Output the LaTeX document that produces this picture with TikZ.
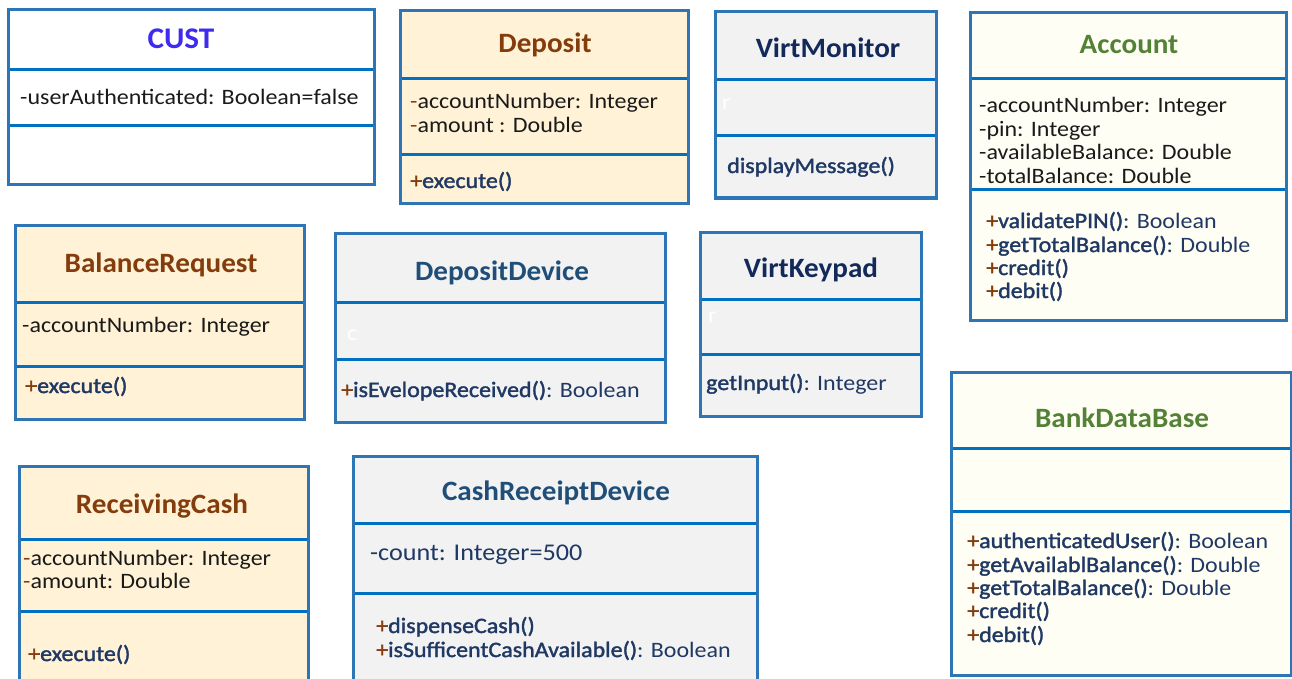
\documentclass[tikz,border=0pt]{standalone}
\usepackage{fontspec}
\setmainfont{Carlito}
\newfontfamily\bodyfam{Carlito}[FakeStretch=1.09]
\newfontfamily\opfam{Carlito}[FakeStretch=1.09, FakeBold=1.6]
\newfontfamily\headfam{Carlito}[FakeStretch=1.04]
\definecolor{frameblue}{HTML}{2E75B6}
\definecolor{divblue}{HTML}{0070C0}
\definecolor{tanfill}{HTML}{FFF2D6}
\definecolor{grayfill}{HTML}{F2F2F2}
\definecolor{ivoryfill}{HTML}{FEFEF4}
\definecolor{custblue}{HTML}{3F2BEE}
\definecolor{brownT}{HTML}{843C0C}
\definecolor{navyT}{HTML}{13295A}
\definecolor{steelT}{HTML}{1F4E79}
\definecolor{greenT}{HTML}{538135}
\definecolor{ink}{HTML}{1A1A1A}
\definecolor{navy}{HTML}{1F3864}
% operation name set a little heavier; #1 = visibility sign, #2 = name
\newcommand\op[2]{{\opfam\textcolor{brownT}{#1}\textcolor{navy}{#2}}}
\tikzset{
  x=1pt, y=-1pt,
  frame/.style={draw=frameblue, line width=3pt},
  divider/.style={draw=divblue, line width=3pt},
  ctitle/.style={font=\headfam\bfseries\fontsize{28}{30}\selectfont, anchor=base, inner sep=0pt},
  ctext/.style={font=\bodyfam\fontsize{22}{24}\selectfont, text=ink, anchor=base west, inner sep=0pt},
  otext/.style={ctext, text=navy},
  ghost/.style={ctext, text=white},
}
% one class box: fill, left, top, right, bottom, first divider, second divider
\newcommand\classbox[7]{%
  \fill[#1] (#2,#3) rectangle (#4,#5);
  \draw[divider] (#2,#6) -- (#4,#6);
  \draw[divider] (#2,#7) -- (#4,#7);
  \draw[frame] (#2,#3) rectangle (#4,#5);
}
\begin{document}
\begin{tikzpicture}
\useasboundingbox (0,0) rectangle (1292,679);
\clip (0,0) rectangle (1292,679);
\fill[white] (0,0) rectangle (1292,679);

% CUST
\classbox{white}{8}{10}{374}{185}{70}{126}
\node[ctitle, text=custblue, font=\headfam\bfseries\fontsize{30}{32}\selectfont] (cust) at (181,49) {CUST};
\node[ctext] (cust-a1) at (20,105) {-userAuthenticated: Boolean=false};

% Deposit
\classbox{tanfill}{400}{11}{688}{203}{79}{155}
\node[ctitle, text=brownT] (dep) at (545,53) {Deposit};
\node[ctext] (dep-a1) at (410,109) {\textcolor{brownT}{-}accountNumber: Integer};
\node[ctext] (dep-a2) at (410,133) {\textcolor{brownT}{-}amount : Double};
\node[otext] (dep-m1) at (410,188) {\op{+}{execute()}};

% VirtMonitor
\classbox{grayfill}{715}{12}{936}{198}{80}{136}
\node[ctitle, text=navyT] (vmon) at (828,58) {VirtMonitor};
\node[ghost] (vmon-a1) at (722,110) {r};
\node[otext] (vmon-m1) at (727,173) {\op{}{displayMessage()}};

% Account
\classbox{ivoryfill}{970}{13}{1286}{320}{79}{190}
\node[ctitle, text=greenT] (acc) at (1129,54) {Account};
\node[ctext] (acc-a1) at (979,113) {-accountNumber: Integer};
\node[ctext] (acc-a2) at (979,137) {-pin: Integer};
\node[ctext] (acc-a3) at (979,160) {-availableBalance: Double};
\node[ctext] (acc-a4) at (979,183) {-totalBalance: Double};
\node[otext] (acc-m1) at (986,228) {\op{+}{validatePIN()}: Boolean};
\node[otext] (acc-m2) at (986,252) {\op{+}{getTotalBalance()}: Double};
\node[otext] (acc-m3) at (986,275) {\op{+}{credit()}};
\node[otext] (acc-m4) at (986,298) {\op{+}{debit()}};

% BalanceRequest
\classbox{tanfill}{15}{225}{304}{419}{302}{366}
\node[ctitle, text=brownT] (bal) at (161,272) {BalanceRequest};
\node[ctext] (bal-a1) at (22,332) {-accountNumber: Integer};
\node[otext] (bal-m1) at (25,393) {\op{+}{execute()}};

% DepositDevice
\classbox{grayfill}{335}{233}{665}{422}{302}{359}
\node[ctitle, text=steelT] (ddev) at (502,280) {DepositDevice};
\node[ghost] (ddev-a1) at (347,340) {c};
\node[otext] (ddev-m1) at (341,397) {\op{+}{isEvelopeReceived()}: Boolean};

% VirtKeypad
\classbox{grayfill}{700}{232}{921}{416}{299}{354}
\node[ctitle, text=navyT] (vkey) at (811,277) {VirtKeypad};
\node[ghost] (vkey-a1) at (708,322) {r};
\node[otext] (vkey-m1) at (706,390) {\op{}{getInput()}: Integer};

% BankDataBase
\classbox{ivoryfill}{951}{372}{1291}{675}{448}{511}
\node[ctitle, text=greenT] (bank) at (1122,427) {BankDataBase};
\node[otext] (bank-m1) at (967,548) {\op{+}{authenticatedUser()}: Boolean};
\node[otext] (bank-m2) at (967,572) {\op{+}{getAvailablBalance()}: Double};
\node[otext] (bank-m3) at (967,595) {\op{+}{getTotalBalance()}: Double};
\node[otext] (bank-m4) at (967,618) {\op{+}{credit()}};
\node[otext] (bank-m5) at (967,642) {\op{+}{debit()}};

% ReceivingCash
\classbox{tanfill}{19}{466}{308}{700}{539}{611}
\node[ctitle, text=brownT] (recv) at (162,513) {ReceivingCash};
\node[ctext] (recv-a1) at (23,565) {\textcolor{brownT}{-}accountNumber: Integer};
\node[ctext] (recv-a2) at (23,588) {\textcolor{brownT}{-}amount: Double};
\node[otext] (recv-m1) at (28,661) {\op{+}{execute()}};

% CashReceiptDevice
\classbox{grayfill}{353}{456}{757}{700}{523}{593}
\node[ctitle, text=steelT] (cash) at (556,500) {CashReceiptDevice};
\node[otext, font=\bodyfam\fontsize{24}{26}\selectfont] (cash-a1) at (370,560) {-count: Integer=500};
\node[otext] (cash-m1) at (376,633) {\op{+}{dispenseCash()}};
\node[otext] (cash-m2) at (376,657) {\op{+}{isSufficentCashAvailable()}: Boolean};
\end{tikzpicture}
\end{document}
